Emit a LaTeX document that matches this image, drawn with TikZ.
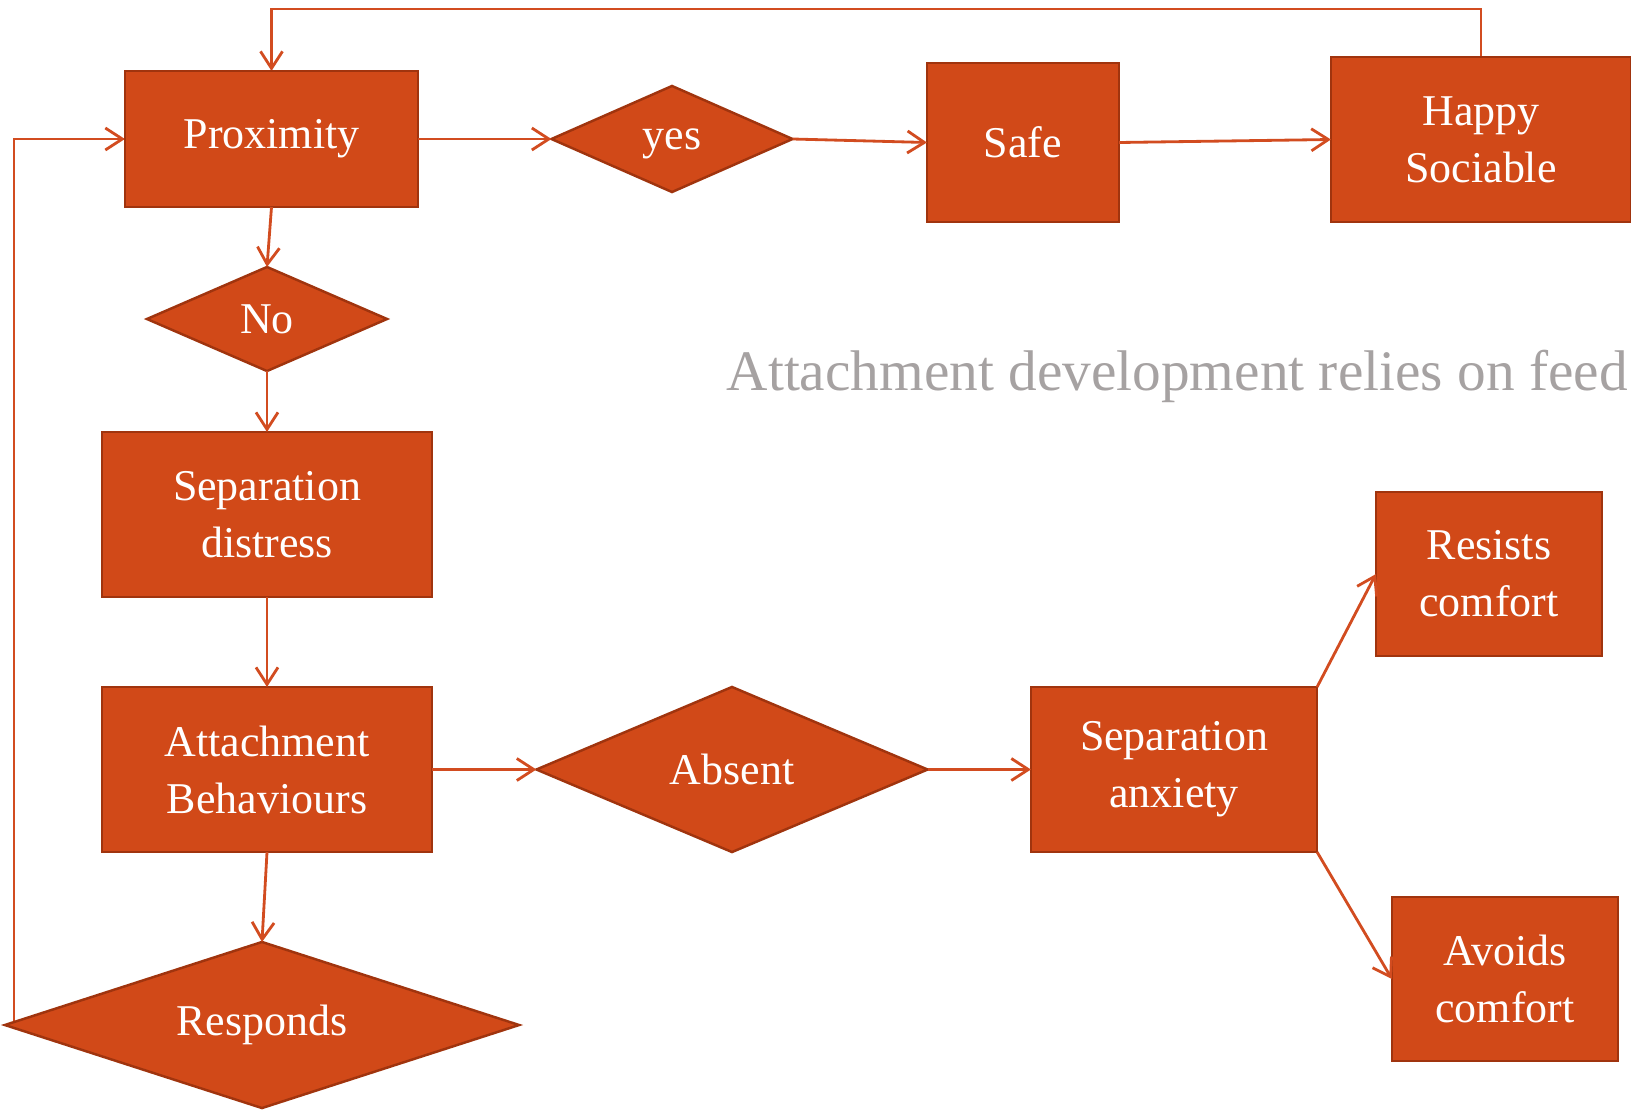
\documentclass[tikz,border=0pt]{standalone}
\usepackage{fontspec}
\setmainfont{Liberation Serif}
\usepackage{xcolor}
\usetikzlibrary{shapes.geometric,arrows.meta,backgrounds}
\definecolor{attorange}{RGB}{209,73,24}
\definecolor{attedge}{RGB}{160,52,14}
\definecolor{attline}{RGB}{210,76,32}
\definecolor{attgray}{RGB}{166,162,162}

\begin{document}
\begin{tikzpicture}[x=0.01cm, y=-0.01cm,
  box/.style={draw=attedge, line width=0.7pt, fill=attorange, text=white, align=center,
    inner sep=0pt, outer sep=0pt, font=\fontsize{12.5}{16.2}\selectfont},
  choice/.style={box, diamond, aspect=2.3},
  conn/.style={draw=attline, line width=0.8pt, -{Straight Barb[length=1.7mm,width=2.2mm]}}]
\useasboundingbox (0,0) rectangle (1631,1109);
\clip (0,0) rectangle (1631,1109);

\node[box, minimum width=2.93cm, minimum height=1.36cm] (prox) at (271.5,139) {Proximity};
\node[choice, minimum width=2.41cm, minimum height=1.06cm, text depth=0pt] (yes) at (672,139) {yes};
\node[box, minimum width=1.92cm, minimum height=1.59cm] (safe) at (1023,142.5) {Safe};
\node[box, minimum width=3.00cm, minimum height=1.65cm] (happy) at (1481,139.5) {Happy\\Sociable};
\node[choice, minimum width=2.40cm, minimum height=1.04cm] (no) at (267,319) {No};
\node[box, minimum width=3.30cm, minimum height=1.65cm] (sepd) at (267,514.5) {Separation\\distress};
\node[box, minimum width=3.30cm, minimum height=1.65cm] (att) at (267,769.5) {Attachment\\Behaviours};
\node[choice, aspect=3.1, minimum width=5.14cm, minimum height=1.66cm] (resp) at (262,1025) {Responds};
\node[choice, minimum width=3.91cm, minimum height=1.65cm] (absent) at (732,769.5) {Absent};
\node[box, minimum width=2.86cm, minimum height=1.65cm] (sepa) at (1174,769.5) {Separation\\anxiety};
\node[box, minimum width=2.26cm, minimum height=1.64cm] (resists) at (1489,574) {Resists\\comfort};
\node[box, minimum width=2.26cm, minimum height=1.64cm] (avoids) at (1505,979) {Avoids\\comfort};
\node[anchor=base west, inner sep=0pt, text=attgray, font=\fontsize{16.3}{20}\selectfont] (note) at (726,390) {Attachment development relies on feed};

\coordinate (top) at (0,9);
\coordinate (back) at (14,0);

\begin{scope}[on background layer]
\draw[conn] (happy.north) -- (happy.north |- top) -| (prox.north);
\draw[conn] (back |- resp.west) |- (prox.west);
\end{scope}
\draw[conn] (prox.east) -- (yes.west);
\draw[conn] (yes.east) -- (safe.west);
\draw[conn] (safe.east) -- (happy.west);
\draw[conn] (prox.south) -- (no.north);
\draw[conn] (no.south) -- (sepd.north);
\draw[conn] (sepd.south) -- (att.north);
\draw[conn] (att.south) -- (resp.north);
\draw[conn] (att.east) -- (absent.west);
\draw[conn] (absent.east) -- (sepa.west);
\draw[conn] (sepa.north east) -- (resists.west);
\draw[conn] (sepa.south east) -- (avoids.west);
\end{tikzpicture}
\end{document}
